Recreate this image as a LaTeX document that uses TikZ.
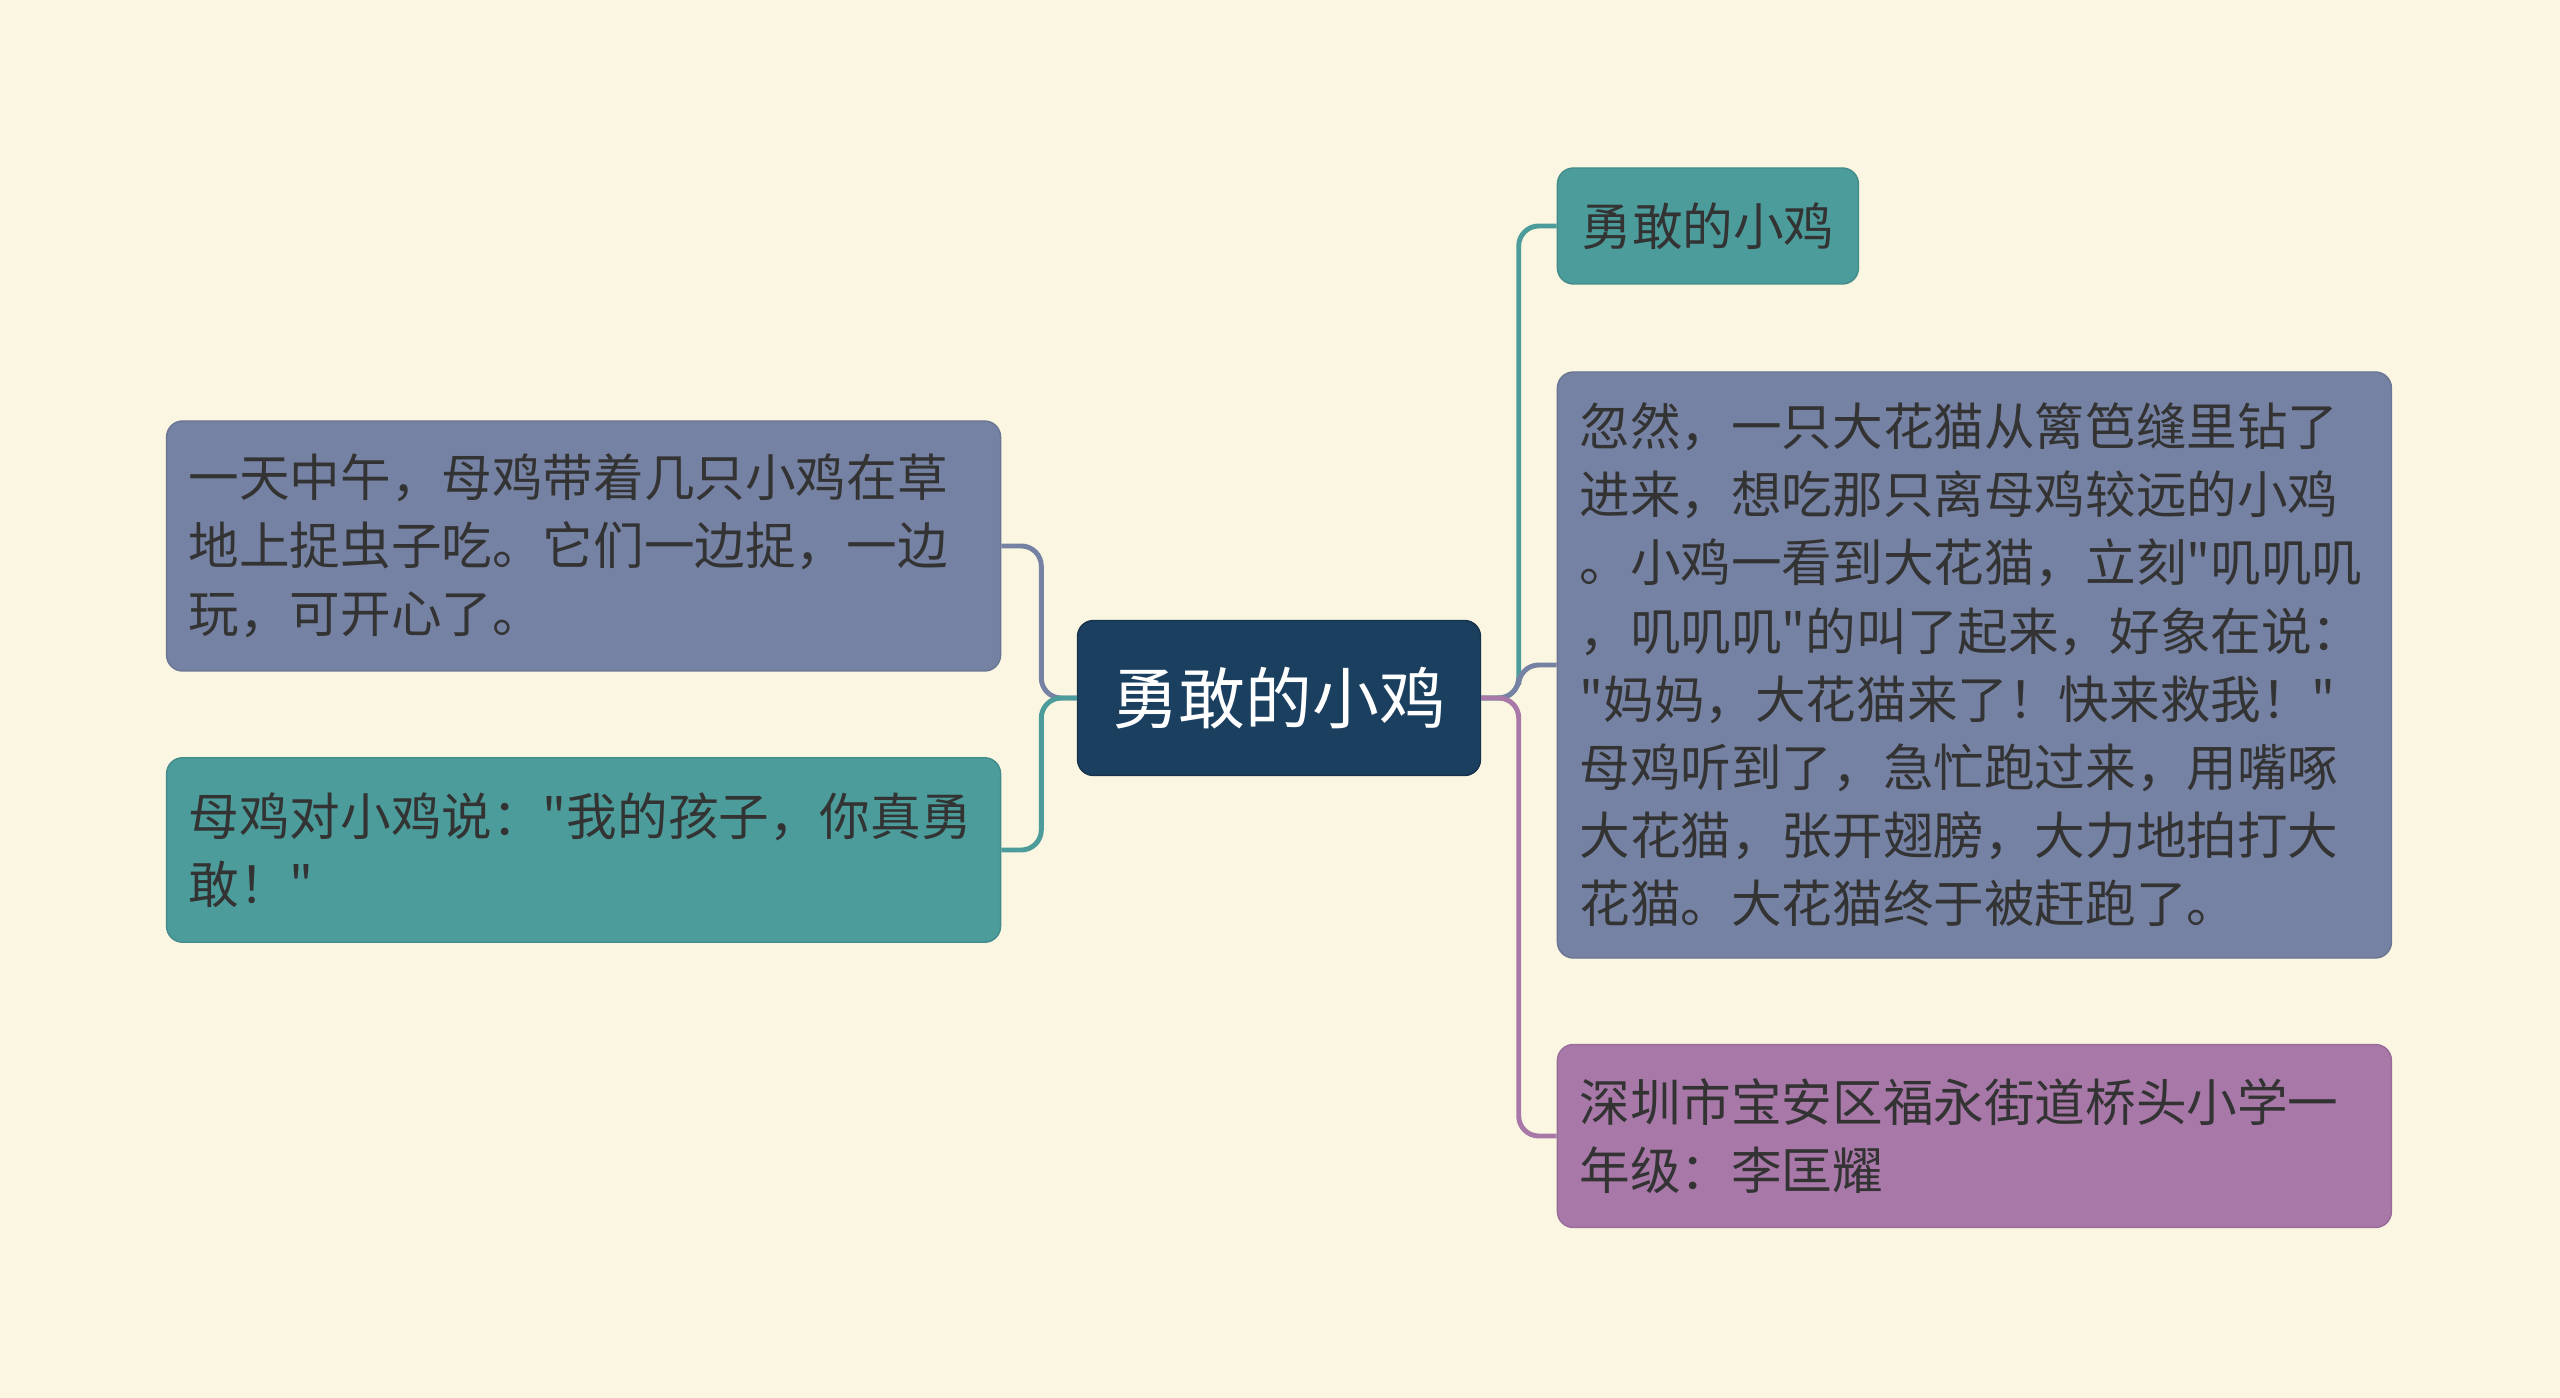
\documentclass[tikz,border=0pt]{standalone}
\usepackage{fontspec}
\newfontfamily\cjk{Noto Sans CJK SC}
\usetikzlibrary{positioning}
\usepackage{xcolor}
\definecolor{Paper}{HTML}{FAF6E1}
\definecolor{Navy}{HTML}{1B3F5F}
\definecolor{Slate}{HTML}{7682A3}
\definecolor{Teal}{HTML}{4B9C9A}
\definecolor{Plum}{HTML}{A878A8}
\definecolor{Ink}{HTML}{333333}

\begin{document}
\begin{tikzpicture}[
    topic/.style={draw=Navy!80!black,rounded corners=1.6mm,fill=Navy,text=white,minimum width=40.3mm,minimum height=15.5mm,font=\cjk\fontsize{19}{23}\selectfont},
    leaf/.style={rounded corners=1.6mm,text=Ink,inner xsep=2.2mm,text width=79mm,align=left,font=\cjk\fontsize{14.4}{19.4}\selectfont},
    tag/.style={rounded corners=1.6mm,text=Ink,inner xsep=2.4mm,minimum height=11.6mm,font=\cjk\fontsize{14.4}{19.4}\selectfont},
    link/.style={line width=1.4pt,rounded corners=2mm}
  ]
    \useasboundingbox[fill=Paper] (0,0) rectangle (25.6,-13.98);
    \node[topic] (main) at (12.79,-6.98) {勇敢的小鸡};
    % left side
    \node[leaf,fill=Slate,draw=Slate!90!black,minimum height=25mm,left=7.55mm of main,yshift=15.2mm] (noon) {一天中午，母鸡带着几只小鸡在草\\地上捉虫子吃。它们一边捉，一边\\玩，可开心了。};
    \node[leaf,fill=Teal,draw=Teal!90!black,minimum height=18.45mm,left=7.55mm of main,yshift=-15.2mm] (brave) {母鸡对小鸡说："我的孩子，你真勇\\敢！"};
    % right side
    \node[tag,fill=Teal,draw=Teal!90!black,right=7.55mm of main,yshift=47.2mm] (title) {勇敢的小鸡};
    \node[leaf,fill=Slate,draw=Slate!90!black,minimum height=58.6mm,right=7.55mm of main,yshift=3.3mm] (cat) {忽然，一只大花猫从篱笆缝里钻了\\进来，想吃那只离母鸡较远的小鸡\\。小鸡一看到大花猫，立刻"叽叽叽\\，叽叽叽"的叫了起来，好象在说：\\"妈妈，大花猫来了！快来救我！"\\母鸡听到了，急忙跑过来，用嘴啄\\大花猫，张开翅膀，大力地拍打大\\花猫。大花猫终于被赶跑了。};
    \node[leaf,fill=Plum,draw=Plum!90!black,minimum height=18.3mm,right=7.55mm of main,yshift=-43.8mm] (school) {深圳市宝安区福永街道桥头小学一\\年级：李匡耀};
    \draw[link,Slate] (main.west) -- ++(-3.55mm,0) |- (noon.east);
    \draw[link,Teal] (main.west) -- ++(-3.55mm,0) |- (brave.east);
    \draw[link,Teal] (main.east) -- ++(3.75mm,0) |- (title.west);
    \draw[link,Slate] (main.east) -- ++(3.75mm,0) |- (cat.west);
    \draw[link,Plum] (main.east) -- ++(3.75mm,0) |- (school.west);
  \end{tikzpicture}
\end{document}
